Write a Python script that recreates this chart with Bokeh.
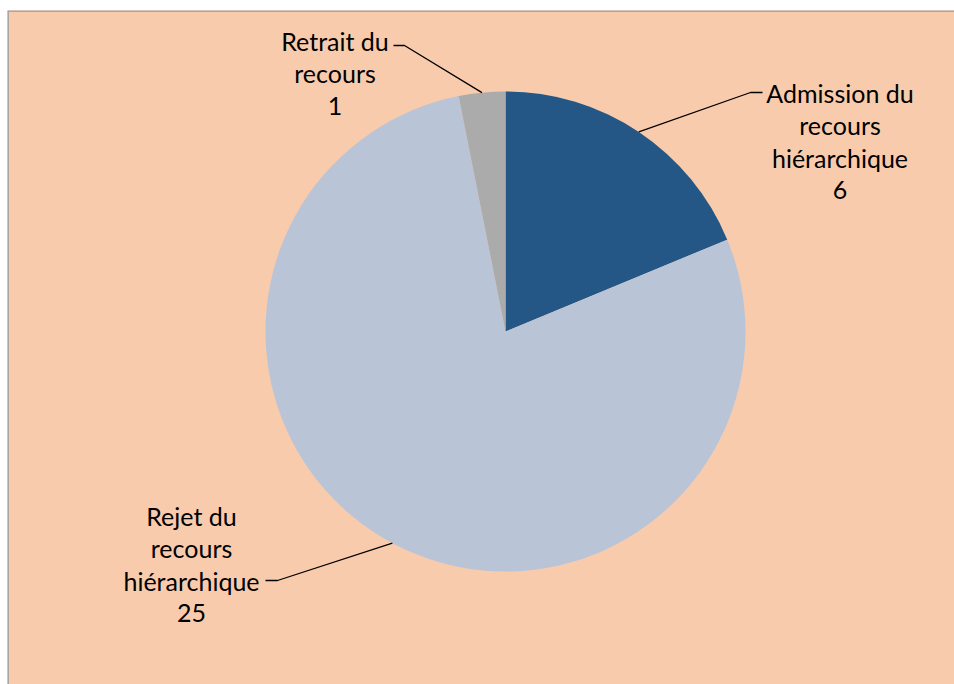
import math
from bokeh.plotting import figure
from bokeh.models import Range1d, ColumnDataSource, Span
from bokeh.core.properties import value
from bokeh.embed import file_html
from bokeh.resources import INLINE

# ---- data ----
categories = ["Admission du recours hiérarchique", "Rejet du recours hiérarchique", "Retrait du recours"]
label_lines = [["Admission du", "recours", "hiérarchique"],
               ["Rejet du", "recours", "hiérarchique"],
               ["Retrait du", "recours"]]
counts = [6, 25, 1]
colors = ["#245785", "#B9C4D7", "#ABABAB"]

# ---- layout (screen px -> data) ----
W, H = 954, 684
LEFT, TOP = 7, 10
def X(sx): return sx
def Y(sy): return H - sy

cx, cy, R = X(505), Y(331), 240

p = figure(width=W, height=H, output_backend="svg", toolbar_location=None,
           x_range=Range1d(LEFT, W), y_range=Range1d(0, H - TOP),
           min_border=0, min_border_top=TOP, min_border_left=LEFT)
p.axis.visible = False
p.grid.visible = False
p.background_fill_color = "#F8CBAD"
p.border_fill_color = "white"
p.outline_line_color = None
p.add_layout(Span(location=LEFT + 0.5, dimension="height", line_color="#A9A6A3", line_width=2))
p.add_layout(Span(location=H - TOP - 0.5, dimension="width", line_color="#A9A6A3", line_width=2))

total = sum(counts)
starts, ends, mids = [], [], []
a = 90.0
for c in counts:
    sweep = 360.0 * c / total
    e = a - sweep
    starts.append(math.radians(e))
    ends.append(math.radians(a))
    mids.append(math.radians((a + e) / 2))
    a = e

src = ColumnDataSource(dict(start=starts, end=ends, color=colors, cat=categories, n=counts))
p.wedge(x=cx, y=cy, radius=R, start_angle="start", end_angle="end",
        fill_color="color", line_color=None, source=src)

# label placements (screen coordinates of text centre / baseline of first line)
label_pos = [(839.5, 92), (191, 515), (334.5, 40)]
line_step = 32.5
# leader line elbow points (screen): (elbow, end of horizontal)
elbows = [((750, 92), (762, 92)), ((277, 580), (265, 580)), ((404, 45), (393, 45))]

for i in range(3):
    lx, ly = label_pos[i]
    lines = label_lines[i] + [str(counts[i])]
    xs = [X(lx)] * len(lines)
    ys = [Y(ly + k * line_step) for k in range(len(lines))]
    p.text(x=xs, y=ys, text=lines, text_align="center", text_baseline="alphabetic",
           text_font=value("Lato"), text_font_size="25px", text_color="#000000")
    m = mids[i]
    px, py = cx + R * math.cos(m), cy + R * math.sin(m)
    (e1x, e1y), (e2x, e2y) = elbows[i]
    p.line(x=[px, X(e1x), X(e2x)], y=[py, Y(e1y), Y(e2y)], line_color="black", line_width=1.3)

open("out.html", "w").write(file_html(p, INLINE))
